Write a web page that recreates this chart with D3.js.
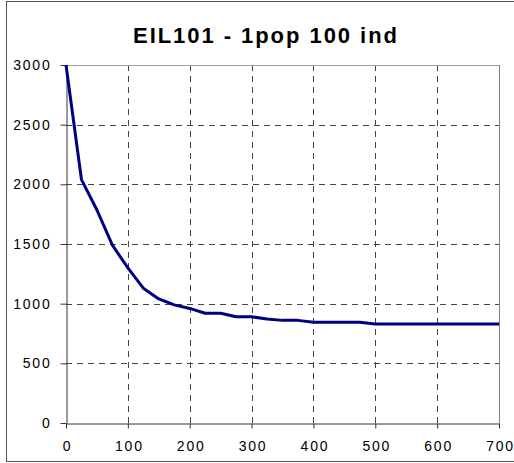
<!DOCTYPE html>
<html>
<head>
<meta charset="utf-8">
<script src="https://cdn.jsdelivr.net/npm/d3@7"></script>
<style>
  html, body { margin: 0; padding: 0; background: #fff; }
  svg { display: block; }
</style>
</head>
<body>
<script>
const title = "EIL101 - 1pop 100 ind";
const xValues = [0, 25, 50, 75, 100, 125, 150, 175, 200, 225, 250, 275, 300, 325, 350, 375, 400, 425, 450, 475, 500, 550, 600, 650, 700];
const yValues = [3000, 2040, 1785, 1490, 1300, 1130, 1040, 990, 960, 920, 920, 890, 890, 872, 860, 860, 845, 845, 845, 845, 830, 830, 830, 830, 830];
const xTicks = [0, 100, 200, 300, 400, 500, 600, 700];
const yTicks = [0, 500, 1000, 1500, 2000, 2500, 3000];

(function () {
const W = 514, H = 463;
const svg = d3.select("body").append("svg").attr("width", W).attr("height", H);

// outer frame
svg.append("rect").attr("x", 6.5).attr("y", 1.5).attr("width", 520).attr("height", 460)
  .attr("fill", "#fff").attr("stroke", "#555").attr("stroke-width", 1);

const pL = 66, pR = 499, pT = 65, pB = 423;
const x = d3.scaleLinear().domain([0, 700]).range([pL, pR]);
const y = d3.scaleLinear().domain([0, 3000]).range([pB, pT]);

// title
svg.append("text").attr("x", 265).attr("y", 43).attr("text-anchor", "middle")
  .attr("font-family", "Liberation Sans, Arial, sans-serif").attr("font-weight", "bold")
  .attr("font-size", 22).attr("fill", "#000")
  .attr("textLength", 264).attr("lengthAdjust", "spacing").text(title);

// grid
const grid = svg.append("g");
grid.selectAll("line.h").data(yTicks.filter(d => d > 0 && d < 3000)).enter().append("line")
  .attr("x1", pL).attr("x2", pR).attr("y1", d => Math.round(y(d)) + 0.5).attr("y2", d => Math.round(y(d)) + 0.5)
  .attr("stroke", "#444").attr("stroke-dasharray", "6,5");
grid.selectAll("line.v").data(xTicks.filter(d => d > 0 && d < 700)).enter().append("line")
  .attr("y1", pT).attr("y2", pB).attr("x1", d => Math.round(x(d)) + 0.5).attr("x2", d => Math.round(x(d)) + 0.5)
  .attr("stroke", "#444").attr("stroke-dasharray", "6,5");

// plot frame top/right
svg.append("line").attr("x1", pL).attr("x2", pR + 0.5).attr("y1", pT + 0.5).attr("y2", pT + 0.5)
  .attr("stroke", "#a0a0a0").attr("stroke-width", 1);
svg.append("line").attr("x1", pR + 0.5).attr("x2", pR + 0.5).attr("y1", pT).attr("y2", pB)
  .attr("stroke", "#808080").attr("stroke-width", 1);

// axes
const fontFam = "Liberation Sans, Arial, sans-serif";
const fmt = d3.format("d");
const xAxis = svg.append("g").attr("transform", `translate(0,${pB + 0.5})`)
  .call(d3.axisBottom(x).tickValues(xTicks).tickFormat(fmt).tickSize(5).tickPadding(13).tickSizeOuter(0));
const yAxis = svg.append("g").attr("transform", `translate(${pL + 0.5},0)`)
  .call(d3.axisLeft(y).tickValues(yTicks).tickFormat(fmt).tickSize(6).tickPadding(9).tickSizeOuter(0));
[xAxis, yAxis].forEach(g => {
  g.select(".domain").attr("stroke", "#333");
  g.selectAll(".tick line").attr("stroke", "#333");
  g.selectAll("text").attr("font-family", fontFam).attr("font-size", 14).attr("fill", "#000")
    .attr("letter-spacing", "1.8px");
});
xAxis.selectAll("text").attr("dx", "1px");

// line
const line = d3.line().x((d, i) => x(xValues[i])).y(d => y(d));
svg.append("path").datum(yValues).attr("d", line)
  .attr("fill", "none").attr("stroke", "#000080").attr("stroke-width", 3).attr("stroke-linejoin", "round");
})();
</script>
</body>
</html>
